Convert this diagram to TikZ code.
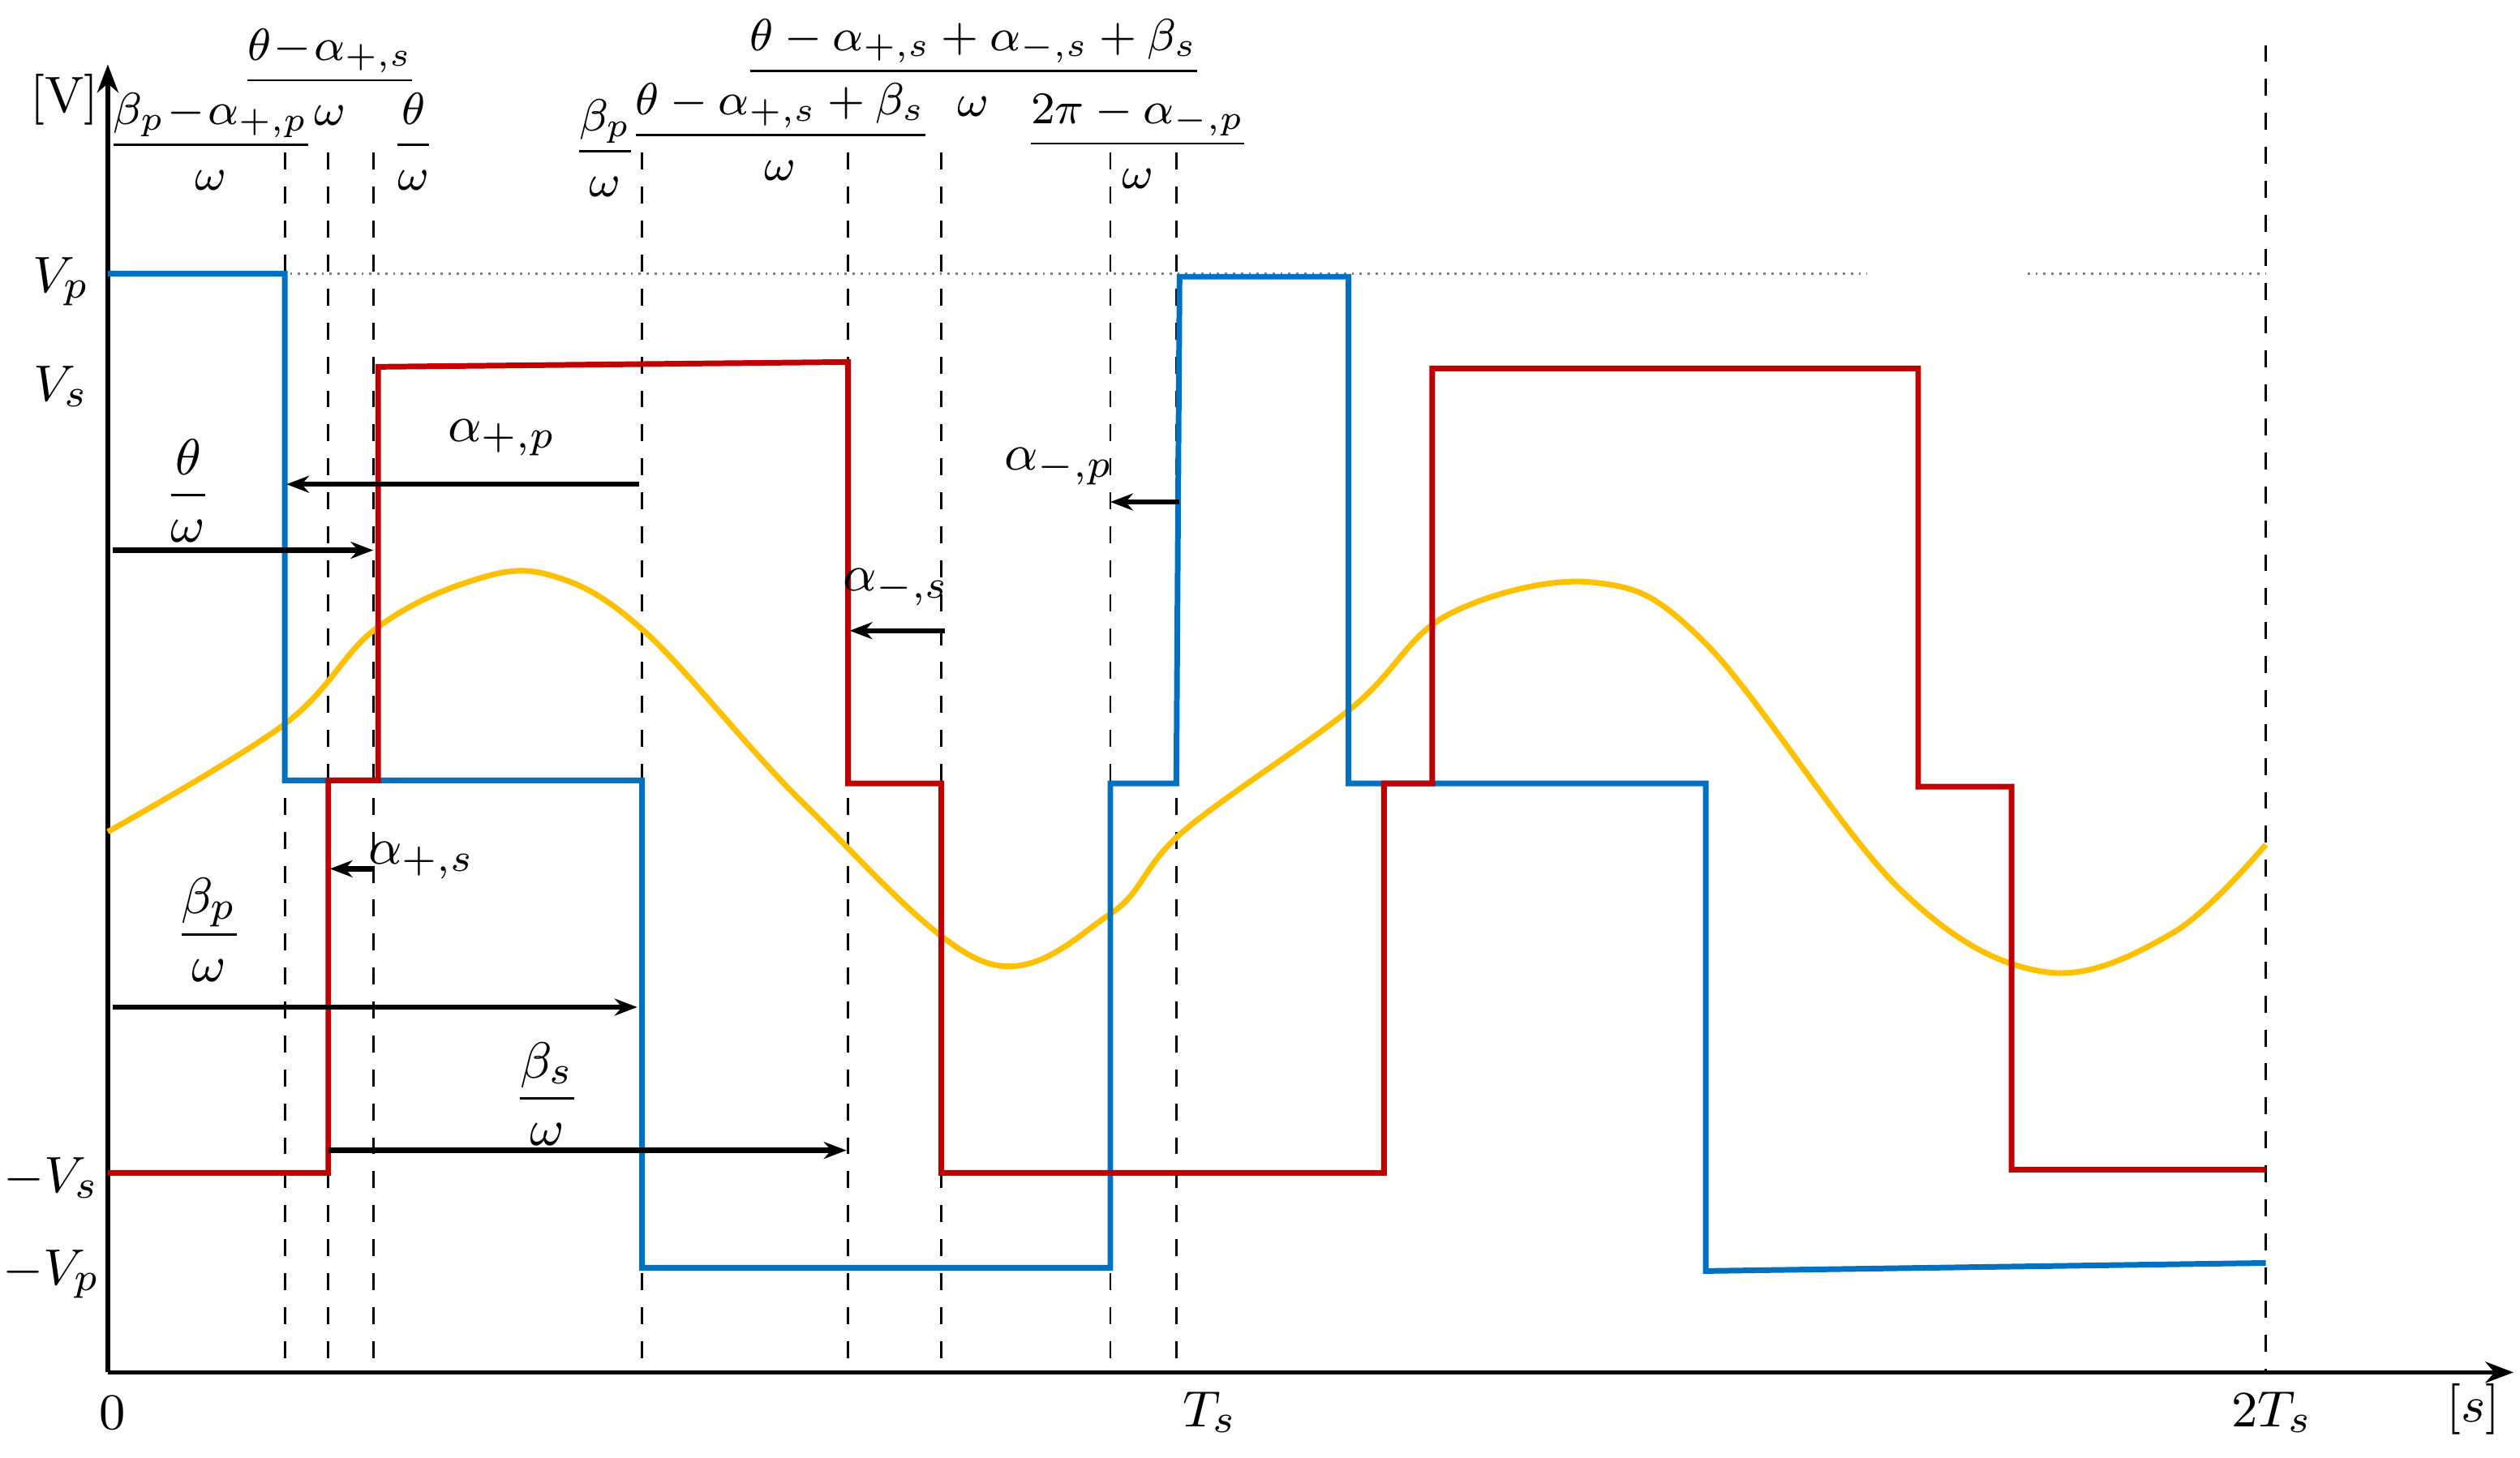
\documentclass[tikz,border=0pt]{standalone}
\usepackage{amsmath}
\usetikzlibrary{arrows.meta}
\definecolor{cblue}{RGB}{0,112,192}
\definecolor{cred}{RGB}{192,0,0}
\definecolor{cyel}{RGB}{255,192,0}
\tikzset{
  wave/.style={line width=1pt},
  guide/.style={dashed,line width=0.4pt},
  dim/.style={-{Stealth[length=4pt]},line width=0.9pt},
  lbl/.style={font=\fontsize{9.5}{11}\selectfont,inner sep=0pt},
  tlbl/.style={font=\fontsize{8.3}{10}\selectfont,inner sep=0pt}
}
\begin{document}
\begin{tikzpicture}[x=0.01cm,y=-0.01cm]
\useasboundingbox (0,0) rectangle (1566,906);
% axes
\coordinate (O) at (67,853);
\coordinate (Ytop) at (67,40);
\coordinate (Xend) at (1562,853);
\draw[-{Stealth[length=5pt]},line width=0.8pt] (O) -- (Ytop);
\draw[-{Stealth[length=5pt]},line width=0.8pt] (O) -- (Xend);
% guides
\foreach \x in {177,204,232,399,527,585,690,731}{\draw[guide] (\x,95) -- (\x,853);}
\draw[guide] (1408,28) -- (1408,853);
\draw[densely dotted,gray,line width=0.4pt] (67,170) -- (1160,170);
\draw[densely dotted,gray,line width=0.4pt] (1260,170) -- (1408,170);
% yellow
\draw[wave,cyel] plot[smooth,tension=0.6] coordinates {(67,517) (177,450) (232,392) (290,362) (340,357) (400,392) (500,500) (612,598) (690,568) (735,517) (840,440) (900,382) (990,362) (1060,400) (1180,552) (1270,604) (1350,580) (1408,525)};
% blue
\draw[wave,cblue] (67,170) -- (177,170) -- (177,485) -- (399,485) -- (399,788) -- (690,788) -- (690,487) -- (731,487) -- (733,172) -- (838,172) -- (838,487) -- (1060,487) -- (1060,790) -- (1408,785);
% red
\draw[wave,cred] (67,729) -- (204,729) -- (204,485) -- (235,485) -- (235,228) -- (527,225) -- (527,487) -- (585,487) -- (585,729) -- (860,729) -- (860,487) -- (890,487) -- (890,229) -- (1192,229) -- (1192,489) -- (1250,489) -- (1250,727) -- (1408,727);
% dimension arrows
\coordinate (a1) at (70,342); \coordinate (a2) at (232,342);
\coordinate (b1) at (397,301); \coordinate (b2) at (178,301);
\coordinate (c1) at (232,540); \coordinate (c2) at (205,540);
\coordinate (d1) at (70,626); \coordinate (d2) at (396,626);
\coordinate (e1) at (204,715); \coordinate (e2) at (526,715);
\coordinate (f1) at (587,392); \coordinate (f2) at (528,392);
\coordinate (g1) at (733,312); \coordinate (g2) at (690,312);
\foreach \s/\t in {a1/a2,b1/b2,c1/c2,d1/d2,e1/e2,f1/f2,g1/g2}{\draw[dim] (\s) -- (\t);}
% labels
\node[lbl] (lV) at (40,62) {$[\mathrm{V}]$};
\node[tlbl] (l1) at (131,88) {$\dfrac{\beta_p\!-\!\alpha_{+,p}}{\omega}$};
\node[tlbl] (l2) at (205,48) {$\dfrac{\theta\!-\!\alpha_{+,s}}{\omega}$};
\node[tlbl] (l3) at (257,88) {$\dfrac{\theta}{\omega}$};
\node[tlbl] (l4) at (376,92) {$\dfrac{\beta_p}{\omega}$};
\node[tlbl] (l5) at (485,82) {$\dfrac{\theta-\alpha_{+,s}+\beta_s}{\omega}$};
\node[tlbl] (l6) at (605,42) {$\dfrac{\theta-\alpha_{+,s}+\alpha_{-,s}+\beta_s}{\omega}$};
\node[tlbl] (l7) at (707,88) {$\dfrac{2\pi-\alpha_{-,p}}{\omega}$};
\node[lbl] (vp) at (38,175) {$V_p$};
\node[lbl] (vs) at (38,240) {$V_s$};
\node[lbl] (mvs) at (32,732) {$-V_s$};
\node[lbl] (mvp) at (32,792) {$-V_p$};
\node[lbl] (z) at (70,878) {$0$};
\node[lbl] (ts) at (752,878) {$T_s$};
\node[lbl] (tts) at (1412,878) {$2T_s$};
\node[lbl] (su) at (1537,876) {$[s]$};
\node[lbl] (t1) at (117,305) {$\dfrac{\theta}{\omega}$};
\node[lbl] (t2) at (312,272) {$\alpha_{+,p}$};
\node[lbl] (t3) at (658,290) {$\alpha_{-,p}$};
\node[lbl] (t4) at (557,365) {$\alpha_{-,s}$};
\node[lbl] (t5) at (262,535) {$\alpha_{+,s}$};
\node[lbl] (t6) at (130,578) {$\dfrac{\beta_p}{\omega}$};
\node[lbl] (t7) at (340,680) {$\dfrac{\beta_s}{\omega}$};
\end{tikzpicture}
\end{document}
